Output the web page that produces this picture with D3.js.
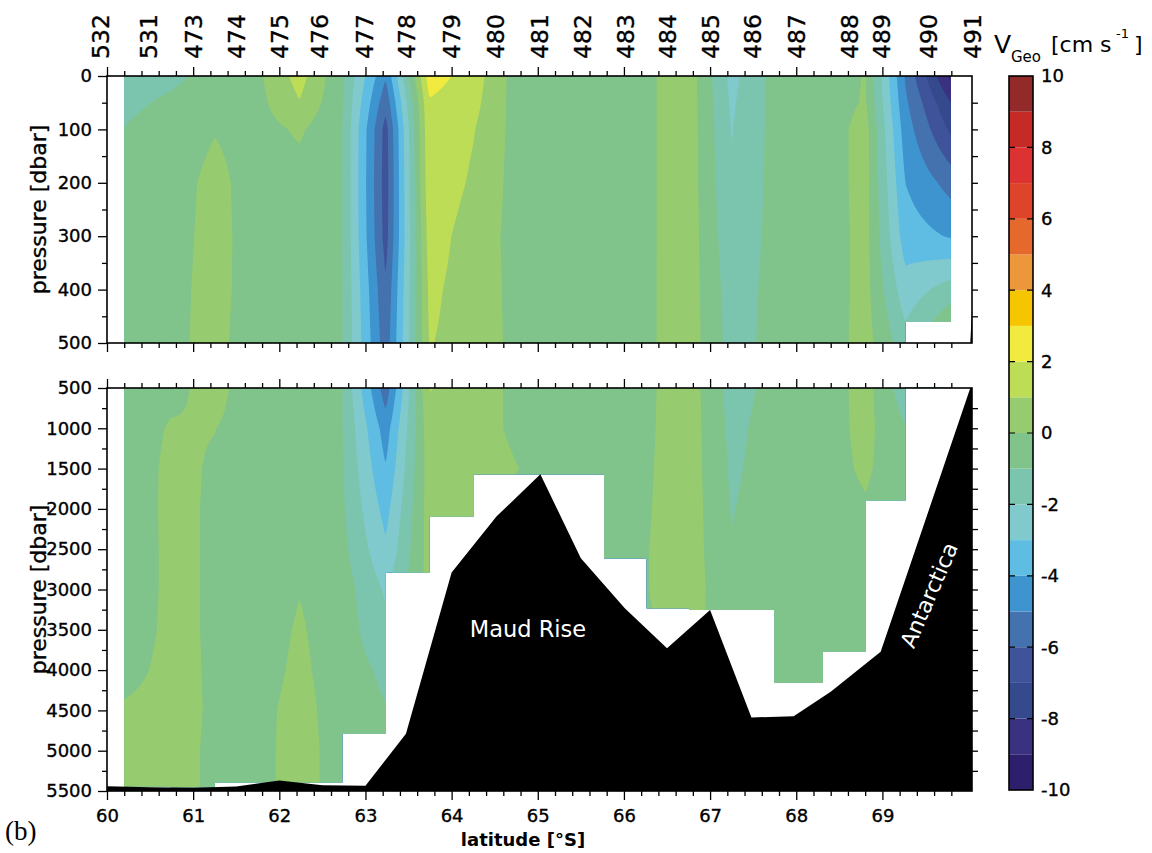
<!DOCTYPE html>
<meta charset="utf-8">
<body style="margin:0;background:#fff">
<script src="https://cdn.jsdelivr.net/npm/d3@7"></script>
<script>

    var width = 1152,
        height = 853;

    // CTD stations along the section (name, latitude in deg S)
    var stationNames = ["532", "531", "473", "474", "475", "476", "477", "478", "479", "480",
                        "481", "482", "483", "484", "485", "486", "487", "488", "489", "490", "491"];
    var stationLat = [59.92, 60.48, 61.0, 61.5, 62.0, 62.47, 62.99, 63.48, 64.0, 64.51,
                      65.02, 65.52, 66.02, 66.51, 67.01, 67.49, 68.0, 68.62, 68.99, 69.54, 70.05];

    // geostrophic velocity is given at station-pair midpoints
    var pairLat = [60.20, 60.74, 61.25, 61.75, 62.235, 62.73, 63.235, 63.74, 64.255, 64.765,
                   65.27, 65.77, 66.265, 66.76, 67.25, 67.745, 68.31, 68.805, 69.265, 69.795];
    // deepest common pressure of each pair
    var pairDepth = [5445, 5455, 5460, 5395, 5395, 5430, 4790, 2790, 2095, 1570,
                     1570, 2612, 3233, 3254, 3254, 4572, 4160, 3773, 1895, 460];

    var pLevels = [0, 50, 100, 200, 300, 400, 500, 1000, 1500, 2000, 2500, 3000, 3500, 4000, 4500, 5000, 5500];

    // V_Geo [cm/s], one row per station pair, one value per pressure level
    var vGeo = [
        [-1.4, -1.2, -0.98, -0.75, -0.65, -0.6, -0.6, -0.65, -0.7, -0.8, -0.85, -0.85, -0.7, -0.4, 0.15, 0.2, 0.2],
        [-1.2, -0.85, -0.6, -0.45, -0.4, -0.35, -0.3, 0.1, 0.25, 0.3, 0.3, 0.3, 0.3, 0.35, 0.4, 0.4, 0.4],
        [-0.7, -0.5, -0.05, 0.3, 0.35, 0.4, 0.4, 0.02, -0.1, -0.15, -0.15, -0.15, -0.15, -0.15, -0.15, -0.2, -0.2],
        [-0.2, -0.3, -0.4, -0.5, -0.5, -0.6, -0.8, -0.5, -0.5, -0.5, -0.5, -0.5, -0.45, -0.4, -0.3, -0.3, -0.3],
        [1.4, 0.95, 0.15, -0.4, -0.5, -0.5, -0.5, -0.5, -0.5, -0.5, -0.45, -0.03, 0.1, 0.2, 0.35, 0.4, 0.4],
        [-0.85, -0.9, -0.95, -0.95, -0.95, -0.95, -0.95, -0.95, -0.9, -0.85, -0.7, -0.5, -0.5, -0.5, -0.5, -0.45, -0.45],
        [-4.9, -5.7, -6.4, -6.5, -6.4, -5.9, -5.6, -4.5, -3.95, -3.35, -2.85, -2.15, -1.75, -1.2, -0.95, -0.9, -0.9],
        [2.5, 1.9, 1.8, 1.7, 1.45, 1.2, 1.05, 0.6, 0.5, 0.45, 0.4, 0.35, 0.3, 0.3, 0.3, 0.3, 0.3],
        [1.5, 1.3, 1.05, 0.85, 0.55, 0.55, 0.6, 0.5, 0.6, 0.6, 0.6, 0.6, 0.6, 0.6, 0.6, 0.6, 0.6],
        [-0.5, -0.45, -0.4, -0.4, -0.35, -0.3, -0.3, -0.24, 0.02, -0.3, -0.4, -0.5, -0.5, -0.5, -0.5, -0.5, -0.5],
        [-0.5, -0.5, -0.5, -0.5, -0.5, -0.5, -0.5, -0.5, -0.5, -0.5, -0.5, -0.5, -0.5, -0.5, -0.5, -0.5, -0.5],
        [-0.5, -0.5, -0.5, -0.5, -0.5, -0.5, -0.5, -0.5, -0.5, -0.5, -0.5, -0.5, -0.5, -0.5, -0.5, -0.5, -0.5],
        [-0.15, -0.15, -0.15, -0.15, -0.15, -0.15, -0.15, -0.13, -0.1, -0.07, -0.03, -0.03, -0.1, -0.2, -0.3, -0.3, -0.3],
        [0.5, 0.5, 0.5, 0.5, 0.5, 0.5, 0.5, 0.5, 0.5, 0.5, 0.5, 0.5, 0.4, 0.3, 0.2, 0.2, 0.2],
        [-2.3, -2.15, -2.05, -1.9, -1.7, -1.5, -1.4, -1.25, -1.15, -1.05, -0.95, -0.8, -0.7, -0.6, -0.6, -0.6, -0.6],
        [-0.7, -0.7, -0.7, -0.7, -0.7, -0.7, -0.7, -0.6, -0.6, -0.5, -0.5, -0.5, -0.5, -0.5, -0.5, -0.5, -0.5],
        [-0.5, -0.55, -0.6, -0.6, -0.6, -0.6, -0.6, -0.5, -0.4, -0.4, -0.4, -0.4, -0.4, -0.4, -0.4, -0.4, -0.4],
        [0.05, 0.1, 0.4, 0.4, 0.35, 0.35, 0.4, 0.3, 0.15, -0.1, -0.2, -0.3, -0.3, -0.3, -0.3, -0.3, -0.3],
        [-5.1, -4.8, -4.5, -4.0, -3.5, -2.6, -1.6, -0.95, -0.7, -0.6, -0.5, -0.5, -0.5, -0.5, -0.5, -0.5, -0.5],
        [-9.3, -8.0, -7.2, -5.4, -4.1, -1.5, 0.5, 0.5, 0.5, 0.5, 0.5, 0.5, 0.5, 0.5, 0.5, 0.5, 0.5]
    ];

    // sea floor
    var bathyLat = [59.9, 60.5, 61.0, 61.5, 62.0, 62.5, 63.0, 63.47, 64.0, 64.52, 65.03, 65.5,
                    66.01, 66.5, 67.0, 67.48, 67.97, 68.4, 68.98, 70.05];
    var bathyP = [5440, 5455, 5460, 5445, 5370, 5430, 5435, 4790, 2790, 2095, 1570, 2612,
                  3233, 3730, 3254, 4588, 4572, 4270, 3773, 406];

    // one colour per 1 cm/s band from -10 to 10
    var bandColors = ["#2e1f6c", "#3a3180", "#344a8c", "#3e5399", "#4472ae", "#3e94cf", "#5fbce3",
                      "#80c9cc", "#7bc4ae", "#80c48c", "#96cb6f", "#bedd57", "#f0eb3e", "#f5c500",
                      "#eb973a", "#e5692c", "#de4429", "#dd3232", "#c62a27", "#922a2a"];
    var bandLevels = d3.range(-10, 10);
    var cbTicks = [-10, -8, -6, -4, -2, 0, 2, 4, 6, 8, 10];
    var latTicks = d3.range(60, 70);
    var topTicks = [0, 100, 200, 300, 400, 500];
    var botTicks = [500, 1000, 1500, 2000, 2500, 3000, 3500, 4000, 4500, 5000, 5500];

    var x = d3.scaleLinear().domain([60, 70.04]).range([107, 972]);
    var yTop = d3.scaleLinear().domain([0, 500]).range([76, 343]);
    var yBot = d3.scaleLinear().domain([500, 5500]).range([388, 791]);
    var cbY = d3.scaleLinear().domain([-10, 10]).range([790, 76]);
    var color = d3.scaleOrdinal().domain(bandLevels).range(bandColors);

    var svg = d3.select("body").append("svg")
            .attr("width", width)
            .attr("height", height)
            .style("font-family", "'DejaVu Sans', sans-serif");

    var defs = svg.append("defs");

    function interp(lat, p) {
        var n = pairLat.length;
        var i = Math.max(0, Math.min(n - 2, d3.bisectRight(pairLat, lat) - 1));
        var j = Math.max(0, Math.min(pLevels.length - 2, d3.bisectRight(pLevels, p) - 1));
        var tx = Math.max(0, Math.min(1, (lat - pairLat[i]) / (pairLat[i + 1] - pairLat[i])));
        var ty = Math.max(0, Math.min(1, (p - pLevels[j]) / (pLevels[j + 1] - pLevels[j])));
        return (1 - tx) * (1 - ty) * vGeo[i][j] + tx * (1 - ty) * vGeo[i + 1][j]
             + (1 - tx) * ty * vGeo[i][j + 1] + tx * ty * vGeo[i + 1][j + 1];
    }

    function drawPanel(y, pTop, pBot, id) {
        var n = pairLat.length;
        // data region: step outline given by pair depths
        var pts = [[x(pairLat[0]), y(pTop)], [x(pairLat[n - 1]), y(pTop)]];
        for (var i = n - 2; i >= 0; i--) {
            var d = Math.min(pBot, pairDepth[i], pairDepth[i + 1]);
            pts.push([x(pairLat[i + 1]), y(d)], [x(pairLat[i]), y(d)]);
        }
        defs.append("clipPath").attr("id", "data" + id)
            .append("polygon").attr("points", pts.map(function(p) { return p.join(","); }).join(" "));
        defs.append("clipPath").attr("id", "frame" + id)
            .append("rect")
            .attr("x", x.range()[0]).attr("y", y(pTop))
            .attr("width", x.range()[1] - x.range()[0]).attr("height", y(pBot) - y(pTop));

        var step = 1.5;
        var x0 = x(pairLat[0]), x1 = x(pairLat[n - 1]);
        var y0 = y(pTop), y1 = y(pBot);
        var nx = Math.ceil((x1 - x0) / step) + 1,
            ny = Math.ceil((y1 - y0) / step) + 1;
        var values = new Array(nx * ny);
        for (var jj = 0; jj < ny; jj++) {
            var p = y.invert(Math.min(y1, y0 + jj * step));
            for (var ii = 0; ii < nx; ii++) {
                values[jj * nx + ii] = interp(x.invert(Math.min(x1, x0 + ii * step)), p);
            }
        }
        var contours = d3.contours().size([nx, ny]).thresholds(bandLevels)(values);
        var path = d3.geoPath(d3.geoIdentity().scale(step).translate([x0 - step / 2, y0 - step / 2]));

        var g = svg.append("g").attr("clip-path", "url(#data" + id + ")");
        g.selectAll("path")
            .data(contours)
            .enter().append("path")
            .attr("d", path)
            .attr("fill", function(c) { return color(c.value); });

        // sea floor
        var floor = bathyLat.map(function(l, k) { return [x(l), y(bathyP[k])]; });
        floor.push([x(bathyLat[bathyLat.length - 1]), y(6000)], [x(bathyLat[0]), y(6000)]);
        svg.append("g").attr("clip-path", "url(#frame" + id + ")")
            .append("polygon")
            .attr("points", floor.map(function(p) { return p.join(","); }).join(" "))
            .attr("fill", "#000");
    }

    drawPanel(yTop, 0, 500, "Top");
    drawPanel(yBot, 500, 5500, "Bot");

    var minorLat = d3.range(300, 351).map(function(d) { return d / 5; })
            .filter(function(d) { return d % 1 !== 0 && d < 70.04; });

    function styleAxis(g, size) {
        g.select(".domain").remove();
        g.selectAll("line").attr("stroke", "#000").attr("stroke-width", 1.3);
        g.selectAll("text").style("font-size", (size || 17) + "px").attr("fill", "#000")
            .attr("stroke", "#000").attr("stroke-width", 0.35)
            .style("font-family", "'DejaVu Sans', sans-serif");
    }

    function frameAxes(y, pTop, pBot, leftMajor, leftMinor, rightTicks, xLabels) {
        var gx = svg.append("g").attr("transform", "translate(0," + y(pTop) + ")")
            .call(d3.axisTop(x).tickValues(latTicks).tickSize(9).tickFormat(""));
        styleAxis(gx);
        gx = svg.append("g").attr("transform", "translate(0," + y(pTop) + ")")
            .call(d3.axisTop(x).tickValues(minorLat).tickSize(5).tickFormat(""));
        styleAxis(gx);
        gx = svg.append("g").attr("transform", "translate(0," + y(pBot) + ")")
            .call(d3.axisBottom(x).tickValues(latTicks).tickSize(9).tickPadding(9)
                .tickFormat(xLabels ? d3.format("d") : ""));
        styleAxis(gx, 18);
        gx = svg.append("g").attr("transform", "translate(0," + y(pBot) + ")")
            .call(d3.axisBottom(x).tickValues(minorLat).tickSize(5).tickFormat(""));
        styleAxis(gx);

        var gy = svg.append("g").attr("transform", "translate(" + x.range()[0] + ",0)")
            .call(d3.axisLeft(y).tickValues(leftMajor).tickSize(9).tickPadding(6).tickFormat(d3.format("d")));
        styleAxis(gy, 18);
        gy = svg.append("g").attr("transform", "translate(" + x.range()[0] + ",0)")
            .call(d3.axisLeft(y).tickValues(leftMinor).tickSize(5).tickFormat(""));
        styleAxis(gy);
        gy = svg.append("g").attr("transform", "translate(" + x.range()[1] + ",0)")
            .call(d3.axisRight(y).tickValues(rightTicks).tickSize(6).tickFormat(""));
        styleAxis(gy);

        svg.append("rect")
            .attr("x", x.range()[0]).attr("y", y(pTop))
            .attr("width", x.range()[1] - x.range()[0]).attr("height", y(pBot) - y(pTop))
            .attr("fill", "none").attr("stroke", "#000").attr("stroke-width", 1.6);
    }

    frameAxes(yTop, 0, 500, topTicks, d3.range(50, 500, 100), d3.range(50, 500, 50), false);
    frameAxes(yBot, 500, 5500, botTicks, d3.range(750, 5500, 500), d3.range(750, 5500, 250), true);

    // station numbers along the top
    svg.append("g").selectAll("text")
        .data(stationNames)
        .enter().append("text")
        .attr("transform", function(d, i) { return "translate(" + x(stationLat[i]) + ",59) rotate(-90)"; })
        .attr("dy", "0.36em")
        .attr("stroke", "#000").attr("stroke-width", 0.35)
        .style("font-size", "23.5px")
        .text(function(d) { return d; });

    // axis titles
    [yTop, yBot].forEach(function(y) {
        var mid = (y.range()[0] + y.range()[1]) / 2;
        svg.append("text")
            .attr("transform", "translate(38," + mid + ") rotate(-90)")
            .attr("text-anchor", "middle").attr("dy", "0.35em")
            .attr("stroke", "#000").attr("stroke-width", 0.35)
            .style("font-size", "22px")
            .text("pressure [dbar]");
    });
    svg.append("text")
        .attr("x", 523).attr("y", 846)
        .attr("text-anchor", "middle")
        .style("font-size", "18px").style("font-weight", "bold")
        .text("latitude [°S]");
    svg.append("text")
        .attr("x", 5).attr("y", 840)
        .style("font-family", "'Liberation Serif', serif")
        .style("font-size", "27px")
        .text("(b)");

    // labels on the sea floor
    svg.append("text")
        .attr("x", 528).attr("y", 637)
        .attr("text-anchor", "middle")
        .attr("fill", "#fff")
        .style("font-size", "22.5px")
        .text("Maud Rise");
    svg.append("text")
        .attr("transform", "translate(929,595) rotate(-66.5)")
        .attr("text-anchor", "middle").attr("dy", "0.35em")
        .attr("fill", "#fff")
        .style("font-size", "22px")
        .text("Antarctica");

    // colour bar
    var cb = svg.append("g");
    cb.selectAll("rect.band")
        .data(bandLevels)
        .enter().append("rect")
        .attr("class", "band")
        .attr("x", 1009).attr("width", 24)
        .attr("y", function(d) { return cbY(d + 1); })
        .attr("height", function(d) { return cbY(d) - cbY(d + 1); })
        .attr("fill", function(d) { return color(d); });
    cb.selectAll("path.tl")
        .data(cbTicks.slice(1, -1))
        .enter().append("path")
        .attr("d", function(d) {
            return "M1009," + cbY(d) + "h6M1033," + cbY(d) + "h-6";
        })
        .attr("stroke", "#000").attr("stroke-width", 1.2);
    cb.append("rect")
        .attr("x", 1009).attr("y", cbY(10)).attr("width", 24).attr("height", cbY(-10) - cbY(10))
        .attr("fill", "none").attr("stroke", "#000").attr("stroke-width", 1.6);
    cb.selectAll("text")
        .data(cbTicks)
        .enter().append("text")
        .attr("x", 1041).attr("y", function(d) { return cbY(d); })
        .attr("dy", "0.36em")
        .attr("stroke", "#000").attr("stroke-width", 0.35)
        .style("font-size", "18px")
        .text(function(d) { return d; });

    var title = svg.append("g").style("font-size", "22px");
    title.append("text").attr("x", 994).attr("y", 53).style("font-size", "25px").text("V");
    title.append("text").attr("x", 1011).attr("y", 62).style("font-size", "15px").text("Geo");
    title.append("text").attr("x", 1051).attr("y", 52).text("[cm s");
    title.append("text").attr("x", 1116).attr("y", 38).style("font-size", "13px").text("-1");
    title.append("text").attr("x", 1134).attr("y", 52).text("]");

</script>
